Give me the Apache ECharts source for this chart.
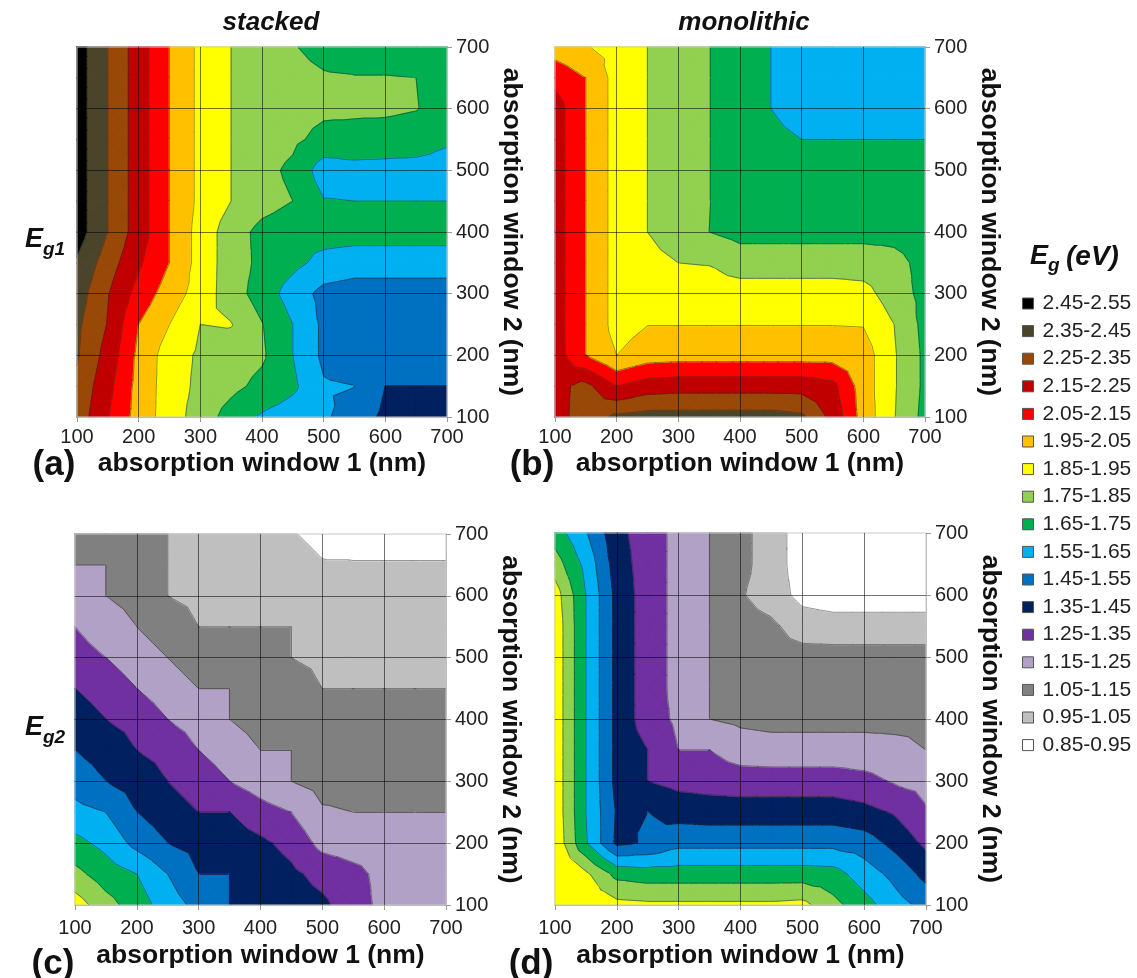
<!DOCTYPE html>
<html>
<head>
<meta charset="utf-8">
<title>Eg contour maps</title>
<script src="https://cdn.jsdelivr.net/npm/echarts@6/dist/echarts.min.js"></script>
<style>
  html, body { margin: 0; padding: 0; background: #fff; }
  #main { width: 1137px; height: 978px; }
</style>
</head>
<body>
<div id="main"></div>
<script>
// sample positions (nm); rows of every table below go from window2 = 700 down to 100
const window1 = [100, 150, 200, 250, 300, 350, 400, 450, 500, 550, 600, 650, 700];
const window2 = [700, 650, 600, 550, 500, 450, 400, 350, 300, 250, 200, 150, 100];

// Eg bins (eV) and their colours
const bandNames = ['2.45-2.55', '2.35-2.45', '2.25-2.35', '2.15-2.25', '2.05-2.15', '1.95-2.05',
  '1.85-1.95', '1.75-1.85', '1.65-1.75', '1.55-1.65', '1.45-1.55', '1.35-1.45', '1.25-1.35',
  '1.15-1.25', '1.05-1.15', '0.95-1.05', '0.85-0.95'];
const bandColors = ['#000000', '#4a452a', '#984807', '#c00000', '#ff0000', '#ffc000',
  '#ffff00', '#92d050', '#00b050', '#00b0f0', '#0070c0', '#002060', '#7030a0',
  '#b2a1c7', '#808080', '#bfbfbf', '#ffffff'];

// (a) Eg1, stacked
const eg1Stacked = [
  [2.50, 2.35, 2.20, 2.05, 1.925, 1.85, 1.80, 1.756, 1.72, 1.70, 1.70, 1.70, 1.70],
  [2.50, 2.35, 2.20, 2.05, 1.925, 1.85, 1.80, 1.78, 1.76, 1.755, 1.755, 1.75, 1.70],
  [2.50, 2.35, 2.20, 2.05, 1.925, 1.85, 1.80, 1.79, 1.77, 1.77, 1.77, 1.755, 1.70],
  [2.50, 2.35, 2.20, 2.05, 1.925, 1.85, 1.80, 1.77, 1.72, 1.71, 1.70, 1.69, 1.66],
  [2.50, 2.35, 2.20, 2.05, 1.925, 1.85, 1.78, 1.73, 1.60, 1.62, 1.62, 1.62, 1.62],
  [2.50, 2.35, 2.20, 2.05, 1.925, 1.85, 1.79, 1.75, 1.655, 1.65, 1.65, 1.65, 1.65],
  [2.50, 2.35, 2.20, 2.05, 1.91, 1.80, 1.72, 1.69, 1.69, 1.69, 1.69, 1.69, 1.69],
  [2.44, 2.30, 2.166, 2.05, 1.91, 1.80, 1.725, 1.677, 1.62, 1.60, 1.60, 1.60, 1.60],
  [2.40, 2.256, 2.113, 2.003, 1.904, 1.80, 1.703, 1.605, 1.52, 1.50, 1.50, 1.50, 1.50],
  [2.37, 2.245, 2.05, 1.95, 1.85, 1.855, 1.755, 1.65, 1.53, 1.50, 1.50, 1.50, 1.50],
  [2.36, 2.212, 2.026, 1.90, 1.834, 1.80, 1.765, 1.65, 1.53, 1.50, 1.48, 1.48, 1.48],
  [2.33, 2.18, 2.017, 1.90, 1.826, 1.776, 1.724, 1.67, 1.56, 1.551, 1.45, 1.45, 1.45],
  [2.31, 2.155, 2.01, 1.90, 1.804, 1.708, 1.637, 1.60, 1.566, 1.50, 1.43, 1.40, 1.40]
];

// (b) Eg1, monolithic
const eg1Mono = [
  [2.00, 1.955, 1.92, 1.85, 1.80, 1.752, 1.70, 1.65, 1.60, 1.60, 1.60, 1.60, 1.60],
  [2.12, 2.05, 1.91, 1.85, 1.80, 1.752, 1.70, 1.65, 1.60, 1.60, 1.60, 1.60, 1.60],
  [2.198, 2.05, 1.91, 1.85, 1.80, 1.752, 1.70, 1.65, 1.60, 1.60, 1.60, 1.60, 1.60],
  [2.198, 2.05, 1.91, 1.85, 1.80, 1.752, 1.70, 1.68, 1.65, 1.65, 1.65, 1.65, 1.65],
  [2.198, 2.05, 1.91, 1.85, 1.80, 1.752, 1.70, 1.70, 1.70, 1.70, 1.70, 1.70, 1.70],
  [2.198, 2.05, 1.91, 1.85, 1.80, 1.752, 1.70, 1.70, 1.70, 1.70, 1.70, 1.70, 1.70],
  [2.198, 2.05, 1.91, 1.85, 1.80, 1.75, 1.72, 1.72, 1.72, 1.72, 1.72, 1.72, 1.70],
  [2.198, 2.05, 1.91, 1.88, 1.85, 1.845, 1.80, 1.80, 1.80, 1.80, 1.80, 1.78, 1.72],
  [2.198, 2.05, 1.91, 1.90, 1.90, 1.90, 1.90, 1.90, 1.90, 1.90, 1.885, 1.80, 1.72],
  [2.198, 2.05, 1.91, 1.948, 1.948, 1.948, 1.948, 1.948, 1.948, 1.948, 1.945, 1.85, 1.72],
  [2.20, 2.05, 1.95, 2.00, 2.01, 2.01, 2.01, 2.01, 2.01, 2.01, 2.00, 1.86, 1.73],
  [2.22, 2.28, 2.15, 2.20, 2.21, 2.21, 2.21, 2.21, 2.21, 2.18, 2.00, 1.86, 1.73],
  [2.21, 2.30, 2.37, 2.39, 2.39, 2.39, 2.39, 2.39, 2.37, 2.22, 2.01, 1.855, 1.72]
];

// (c) Eg2, stacked
const eg2Stacked = [
  [1.12, 1.10, 1.08, 1.05, 1.02, 1.00, 0.98, 0.955, 0.93, 0.92, 0.92, 0.92, 0.92],
  [1.15, 1.15, 1.10, 1.05, 1.03, 1.01, 1.00, 0.98, 0.955, 0.955, 0.955, 0.955, 0.955],
  [1.22, 1.15, 1.12, 1.05, 1.03, 1.02, 1.01, 1.00, 1.00, 1.00, 1.00, 1.00, 1.00],
  [1.25, 1.20, 1.15, 1.10, 1.05, 1.05, 1.05, 1.05, 1.02, 1.01, 1.01, 1.01, 1.01],
  [1.29, 1.25, 1.20, 1.15, 1.10, 1.08, 1.07, 1.05, 1.03, 1.03, 1.03, 1.03, 1.03],
  [1.35, 1.31, 1.25, 1.20, 1.15, 1.15, 1.12, 1.10, 1.05, 1.05, 1.05, 1.05, 1.05],
  [1.40, 1.35, 1.32, 1.25, 1.21, 1.15, 1.11, 1.10, 1.10, 1.10, 1.10, 1.10, 1.10],
  [1.45, 1.41, 1.35, 1.32, 1.25, 1.21, 1.15, 1.15, 1.12, 1.11, 1.11, 1.11, 1.11],
  [1.51, 1.45, 1.41, 1.35, 1.30, 1.25, 1.20, 1.15, 1.12, 1.12, 1.12, 1.12, 1.12],
  [1.58, 1.55, 1.45, 1.40, 1.35, 1.35, 1.29, 1.25, 1.16, 1.15, 1.15, 1.15, 1.15],
  [1.68, 1.62, 1.52, 1.45, 1.42, 1.40, 1.37, 1.32, 1.22, 1.20, 1.20, 1.20, 1.20],
  [1.78, 1.70, 1.65, 1.55, 1.45, 1.45, 1.41, 1.37, 1.32, 1.28, 1.22, 1.20, 1.20],
  [1.90, 1.79, 1.70, 1.60, 1.52, 1.45, 1.42, 1.40, 1.37, 1.30, 1.22, 1.20, 1.20]
];

// (d) Eg2, monolithic
const eg2Mono = [
  [1.70, 1.56, 1.38, 1.30, 1.22, 1.15, 1.08, 1.00, 0.90, 0.90, 0.90, 0.90, 0.90],
  [1.80, 1.62, 1.40, 1.30, 1.22, 1.15, 1.08, 1.00, 0.90, 0.90, 0.90, 0.90, 0.90],
  [1.90, 1.65, 1.42, 1.30, 1.22, 1.15, 1.06, 1.00, 0.92, 0.90, 0.90, 0.90, 0.90],
  [1.92, 1.65, 1.42, 1.30, 1.22, 1.15, 1.09, 1.07, 1.00, 0.99, 0.99, 0.99, 0.99],
  [1.92, 1.65, 1.42, 1.30, 1.22, 1.15, 1.10, 1.09, 1.09, 1.09, 1.09, 1.09, 1.09],
  [1.92, 1.65, 1.42, 1.30, 1.22, 1.15, 1.12, 1.11, 1.11, 1.11, 1.11, 1.11, 1.12],
  [1.92, 1.65, 1.42, 1.30, 1.23, 1.15, 1.13, 1.12, 1.12, 1.12, 1.12, 1.12, 1.13],
  [1.92, 1.65, 1.42, 1.35, 1.25, 1.25, 1.20, 1.19, 1.19, 1.19, 1.19, 1.18, 1.15],
  [1.92, 1.65, 1.42, 1.35, 1.32, 1.31, 1.30, 1.30, 1.30, 1.30, 1.28, 1.24, 1.22],
  [1.92, 1.65, 1.44, 1.45, 1.41, 1.40, 1.40, 1.40, 1.40, 1.40, 1.38, 1.34, 1.26],
  [1.93, 1.66, 1.43, 1.46, 1.52, 1.52, 1.52, 1.52, 1.52, 1.52, 1.50, 1.42, 1.33],
  [1.94, 1.87, 1.72, 1.70, 1.70, 1.70, 1.70, 1.70, 1.70, 1.69, 1.60, 1.52, 1.42],
  [1.94, 1.92, 1.88, 1.87, 1.87, 1.87, 1.87, 1.87, 1.88, 1.78, 1.69, 1.59, 1.52]
];

const FONT = '"Liberation Sans", Arial, sans-serif';

const bands = bandNames.map((name, k) => {
  const [lo, hi] = name.split('-').map(Number);
  return { name, lo, hi, color: bandColors[k] };
});
const levels = bands.map(b => b.lo).filter(v => v > 0.9);

// one item per grid cell: [x0, y0, x1, y1, v(x0,y0), v(x1,y0), v(x1,y1), v(x0,y1)]
function buildCells(vals) {
  const cells = [];
  for (let r = 0; r < window2.length - 1; r++) {
    for (let c = 0; c < window1.length - 1; c++) {
      cells.push([window1[c], window2[r], window1[c + 1], window2[r + 1],
        vals[r][c], vals[r][c + 1], vals[r + 1][c + 1], vals[r + 1][c]]);
    }
  }
  return cells;
}

// split a cell in 4 triangles around its centre (linear inside each one)
function cellTriangles(api) {
  const x0 = api.value(0), y0 = api.value(1), x1 = api.value(2), y1 = api.value(3);
  const c = [[x0, y0, api.value(4)], [x1, y0, api.value(5)], [x1, y1, api.value(6)], [x0, y1, api.value(7)]];
  const mid = [(x0 + x1) / 2, (y0 + y1) / 2, (c[0][2] + c[1][2] + c[2][2] + c[3][2]) / 4];
  return [0, 1, 2, 3].map(k => [c[k], c[(k + 1) % 4], mid]);
}

// keep the part of a polygon above (or below) a level
function clipPoly(pts, level, above) {
  const out = [];
  for (let k = 0; k < pts.length; k++) {
    const a = pts[k], b = pts[(k + 1) % pts.length];
    const da = above ? a[2] - level : level - a[2];
    const db = above ? b[2] - level : level - b[2];
    if (da >= 0) out.push(a);
    if ((da >= 0) !== (db >= 0)) {
      const t = da / (da - db);
      out.push([a[0] + t * (b[0] - a[0]), a[1] + t * (b[1] - a[1]), level]);
    }
  }
  return out;
}

function renderFill(params, api) {
  const children = [];
  cellTriangles(api).forEach(tri => {
    const vs = tri.map(p => p[2]);
    const vmin = Math.min(...vs), vmax = Math.max(...vs);
    bands.forEach(b => {
      if (b.hi < vmin || b.lo > vmax) return;
      const poly = clipPoly(clipPoly(tri, b.lo, true), b.hi, false);
      if (poly.length < 3) return;
      children.push({
        type: 'polygon',
        shape: { points: poly.map(p => api.coord([p[0], p[1]])) },
        style: { fill: b.color, stroke: b.color, lineWidth: 1.3, lineJoin: 'round' }
      });
    });
  });
  return { type: 'group', children };
}

function renderLines(params, api) {
  const children = [];
  cellTriangles(api).forEach(tri => {
    levels.forEach(lv => {
      const pts = [];
      for (let k = 0; k < 3; k++) {
        const a = tri[k], b = tri[(k + 1) % 3];
        if ((a[2] >= lv) !== (b[2] >= lv)) {
          const t = (lv - a[2]) / (b[2] - a[2]);
          pts.push(api.coord([a[0] + t * (b[0] - a[0]), a[1] + t * (b[1] - a[1])]));
        }
      }
      if (pts.length === 2) {
        children.push({
          type: 'line', z2: 10,
          shape: { x1: pts[0][0], y1: pts[0][1], x2: pts[1][0], y2: pts[1][1] },
          style: { stroke: 'rgba(40,40,40,0.7)', lineWidth: 0.7 }
        });
      }
    });
  });
  return { type: 'group', children };
}

const panels = [eg1Stacked, eg1Mono, eg2Stacked, eg2Mono];
const boxes = [
  { left: 77, top: 47, width: 370, height: 370 },
  { left: 555, top: 47, width: 370, height: 370 },
  { left: 75, top: 534, width: 371, height: 371 },
  { left: 555, top: 533, width: 371, height: 372 }
];

const series = [];
panels.forEach((vals, p) => {
  const cells = buildCells(vals);
  const common = {
    type: 'custom', xAxisIndex: p, yAxisIndex: p, z: -1, silent: true, animation: false,
    dimensions: ['x0', 'y0', 'x1', 'y1', 'v0', 'v1', 'v2', 'v3'],
    encode: { x: [0, 2], y: [1, 3] }, data: cells
  };
  series.push(Object.assign({}, common, { renderItem: renderFill }));
  series.push(Object.assign({}, common, { renderItem: renderLines }));
});
// legend entries
bands.forEach(b => {
  series.push({
    type: 'custom', name: b.name, xAxisIndex: 0, yAxisIndex: 0, data: [],
    itemStyle: { color: b.color }, renderItem: () => null
  });
});

function txt(text, x, y, font, align) {
  return {
    type: 'text', x, y, z: 100, silent: true,
    style: { text, font, fill: '#111', align: align || 'center', verticalAlign: 'middle' }
  };
}

const chart = echarts.init(document.getElementById('main'));
chart.setOption({
  animation: false,
  backgroundColor: '#fff',
  grid: boxes.map(b => Object.assign({ show: true, borderColor: '#c8c8c8', borderWidth: 1, backgroundColor: 'transparent' }, b)),
  xAxis: boxes.map((b, p) => ({
    type: 'value', gridIndex: p, min: 100, max: 700, interval: 100, position: 'bottom',
    name: 'absorption window 1 (nm)', nameLocation: 'middle', nameGap: p < 2 ? 33 : 37,
    nameTextStyle: { fontSize: 26.5, fontWeight: 'bold', fontFamily: FONT, color: '#111' },
    axisLine: { show: true, onZero: false, lineStyle: { color: '#bdbdbd' } },
    axisTick: { show: true, length: 5, lineStyle: { color: '#9a9a9a' } },
    axisLabel: { fontSize: 20, fontFamily: FONT, color: '#222', margin: p < 2 ? 10 : 13 },
    splitLine: { show: true, showMinLine: false, showMaxLine: false, lineStyle: { color: 'rgba(0,0,0,0.55)', width: 1 } }
  })),
  yAxis: boxes.map((b, p) => ({
    type: 'value', gridIndex: p, min: 100, max: 700, interval: 100, position: 'right',
    name: 'absorption window 2 (nm)', nameLocation: 'middle', nameRotate: -90, nameGap: 51,
    nameTextStyle: { fontSize: 26.5, fontWeight: 'bold', fontFamily: FONT, color: '#111' },
    axisLine: { show: true, onZero: false, lineStyle: { color: '#bdbdbd' } },
    axisTick: { show: true, length: 5, lineStyle: { color: '#9a9a9a' } },
    axisLabel: { fontSize: 20, fontFamily: FONT, color: '#222', margin: 9 },
    splitLine: { show: true, showMinLine: false, showMaxLine: false, lineStyle: { color: 'rgba(0,0,0,0.55)', width: 1 } }
  })),
  legend: {
    data: bandNames, orient: 'vertical', left: 1017, top: 288, icon: 'rect',
    itemWidth: 11, itemHeight: 11, itemGap: 6.6, selectedMode: false,
    itemStyle: { borderColor: '#555', borderWidth: 1 },
    textStyle: { fontSize: 21, lineHeight: 21, fontFamily: FONT, color: '#222', padding: [0, 0, 0, 4] }
  },
  graphic: [
    txt('stacked', 271, 23, 'italic bold 26px ' + FONT),
    txt('monolithic', 744, 23, 'italic bold 26px ' + FONT),
    txt('E', 25, 240, 'italic bold 27px ' + FONT, 'left'),
    txt('g1', 43, 250, 'italic bold 19px ' + FONT, 'left'),
    txt('E', 25, 728, 'italic bold 27px ' + FONT, 'left'),
    txt('g2', 43, 738, 'italic bold 19px ' + FONT, 'left'),
    txt('E', 1030, 257, 'italic bold 27px ' + FONT, 'left'),
    txt('g', 1048, 266, 'italic bold 19px ' + FONT, 'left'),
    txt('(eV)', 1066, 257, 'italic bold 28px ' + FONT, 'left'),
    txt('(a)', 54, 465, 'bold 35px ' + FONT),
    txt('(b)', 532, 465, 'bold 35px ' + FONT),
    txt('(c)', 53, 964, 'bold 35px ' + FONT),
    txt('(d)', 531, 964, 'bold 35px ' + FONT)
  ],
  series
});
</script>
</body>
</html>
